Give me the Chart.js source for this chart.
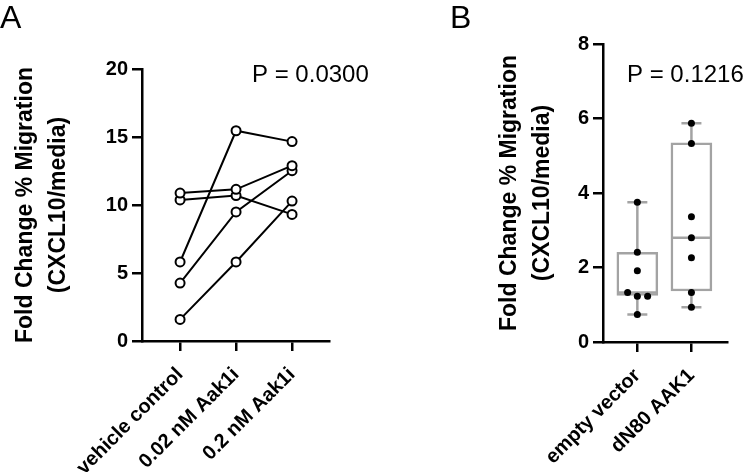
<!DOCTYPE html>
<html>
<head>
<meta charset="utf-8">
<script src="https://cdn.jsdelivr.net/npm/chart.js@4.4.0/dist/chart.umd.min.js"></script>
<style>
  html, body { margin: 0; padding: 0; background: #fff; }
  #wrap { position: relative; width: 750px; height: 472px; overflow: hidden; }
  .panel { position: absolute; top: 0; width: 375px; height: 472px; }
  .tag { position: absolute; top: 1px; font: 32px/32px "Liberation Sans", Arial, sans-serif; color: #000; }
</style>
</head>
<body>
<div id="wrap">
  <div class="panel" style="left:0"><canvas id="chartA"></canvas></div>
  <div class="panel" style="left:375px"><canvas id="chartB"></canvas></div>
  <div class="tag" style="left:0">A</div>
  <div class="tag" style="left:450px">B</div>
</div>
<script>
// Panel A: paired values per replicate
const treatments = ['vehicle control', '0.02 nM Aak1i', '0.2 nM Aak1i'];
const rep1 = [5.81, 15.46, 14.66];
const rep2 = [10.88, 11.15, 12.89];
const rep3 = [10.37, 10.69, 9.31];
const rep4 = [4.26, 9.49, 12.52];
const rep5 = [1.59, 5.81, 10.29];
const ticksA = [0, 5, 10, 15, 20];

// Panel B: box plots with individual points
const groupsB = ['empty vector', 'dN80 AAK1'];
const emptyVector = [3.75, 2.41, 1.91, 1.33, 1.23, 1.23, 0.74];
const emptyVectorJitter = [0, 0, 0, -0.18, 0, 0.19, 0];
const dn80 = [5.87, 5.33, 3.36, 2.80, 2.26, 1.33, 0.93];
const dn80Jitter = [0, 0, 0, 0, 0, 0, 0];
const boxMin = [0.74, 0.93];
const boxQ1 = [1.25, 1.37];
const boxMedian = [1.33, 2.80];
const boxQ3 = [2.41, 5.35];
const boxMax = [3.75, 5.87];
const ticksB = [0, 2, 4, 6, 8];

const FONT = '"Liberation Sans", Arial, sans-serif';
const yTitle = ['Fold Change % Migration', '(CXCL10/media)'];
const gray = '#a3a3a3';

// texte P = ... en haut à droite
const pValuePlugin = {
  id: 'pValue',
  afterDraw(chart, args, opts) {
    const ctx = chart.ctx;
    ctx.save();
    ctx.font = '24px ' + FONT;
    ctx.fillStyle = '#000';
    ctx.textBaseline = 'alphabetic';
    ctx.fillText(opts.text, chart.chartArea.left + opts.dx, opts.y);
    ctx.restore();
  }
};

function axisX(labels, min, max, height) {
  return {
    type: 'linear',
    min: min,
    max: max,
    offset: false,
    afterBuildTicks: s => { s.ticks = labels.map((_, i) => ({ value: i })); },
    afterFit: s => { s.height = height; },
    border: { color: '#000', width: 2.5 },
    grid: { drawOnChartArea: false, offset: false, color: '#000', lineWidth: 2.5, tickLength: 10 },
    ticks: {
      color: '#000',
      font: { family: FONT, size: 20, weight: 'bold' },
      minRotation: 45,
      maxRotation: 45,
      autoSkip: false,
      padding: 12,
      callback: v => labels[v]
    }
  };
}

function axisY(tickVals, width, titlePad) {
  return {
    min: tickVals[0],
    max: tickVals[tickVals.length - 1],
    afterBuildTicks: s => { s.ticks = tickVals.map(v => ({ value: v })); },
    afterFit: s => { s.width = width; },
    border: { color: '#000', width: 2.5 },
    grid: { drawOnChartArea: false, color: '#000', lineWidth: 2.5, tickLength: 10 },
    ticks: { color: '#000', font: { family: FONT, size: 20, weight: 'bold' }, padding: 4 },
    title: {
      display: true,
      text: yTitle,
      color: '#000',
      font: { family: FONT, size: 23, weight: 'bold', lineHeight: 1.4 },
      padding: { top: titlePad, bottom: 0 }
    }
  };
}

function repDataset(vals) {
  return {
    data: vals.map((v, i) => ({ x: i, y: v })),
    showLine: true,
    borderColor: '#000',
    borderWidth: 2,
    pointRadius: 4.5,
    pointBorderWidth: 2,
    pointBorderColor: '#000',
    pointBackgroundColor: '#fff'
  };
}

new Chart(document.getElementById('chartA'), {
  type: 'scatter',
  data: { datasets: [rep1, rep2, rep3, rep4, rep5].map(repDataset) },
  options: {
    responsive: true,
    maintainAspectRatio: false,
    animation: false,
    layout: { padding: { left: 0, top: 69, right: 46, bottom: 0 } },
    scales: {
      x: axisX(treatments, -0.68, 2.66, 131),
      y: axisY(ticksA, 142, 10)
    },
    plugins: {
      legend: { display: false },
      tooltip: { enabled: false },
      pValue: { text: 'P = 0.0300', dx: 110, y: 82 }
    }
  },
  plugins: [pValuePlugin]
});

const whiskers = groupsB.map((_, i) => ({
  type: 'scatter',
  data: [{ x: i, y: boxMin[i] }, { x: i, y: boxMax[i] }],
  showLine: true,
  borderColor: gray,
  borderWidth: 2.5,
  pointRadius: 0,
  order: 5
}));

new Chart(document.getElementById('chartB'), {
  type: 'scatter',
  data: {
    datasets: [
      ...whiskers,
      {
        type: 'bar',
        data: groupsB.map((_, i) => ({ x: i, y: [boxQ1[i], boxQ3[i]] })),
        backgroundColor: '#fff',
        borderColor: gray,
        borderWidth: 2.5,
        borderSkipped: false,
        barThickness: 41,
        order: 4
      },
      {
        data: groupsB.flatMap((_, i) => [{ x: i, y: boxMin[i] }, { x: i, y: boxMax[i] }]),
        pointStyle: 'line',
        pointRadius: 10,
        pointBorderWidth: 2.5,
        pointBorderColor: gray,
        order: 3
      },
      {
        data: groupsB.map((_, i) => ({ x: i, y: boxMedian[i] })),
        pointStyle: 'line',
        pointRadius: 20,
        pointBorderWidth: 2.5,
        pointBorderColor: gray,
        order: 3
      },
      {
        data: [
          ...emptyVector.map((v, k) => ({ x: 0 + emptyVectorJitter[k], y: v })),
          ...dn80.map((v, k) => ({ x: 1 + dn80Jitter[k], y: v }))
        ],
        pointRadius: 3.5,
        pointBorderWidth: 0,
        pointBackgroundColor: '#000',
        order: 1
      }
    ]
  },
  options: {
    responsive: true,
    maintainAspectRatio: false,
    animation: false,
    layout: { padding: { left: 0, top: 44, right: 2, bottom: 0 } },
    scales: {
      x: axisX(groupsB, -0.635, 1.667, 130),
      y: axisY(ticksB, 228, 119)
    },
    plugins: {
      legend: { display: false },
      tooltip: { enabled: false },
      pValue: { text: 'P = 0.1216', dx: 24, y: 82 }
    }
  },
  plugins: [pValuePlugin]
});
</script>
</body>
</html>
